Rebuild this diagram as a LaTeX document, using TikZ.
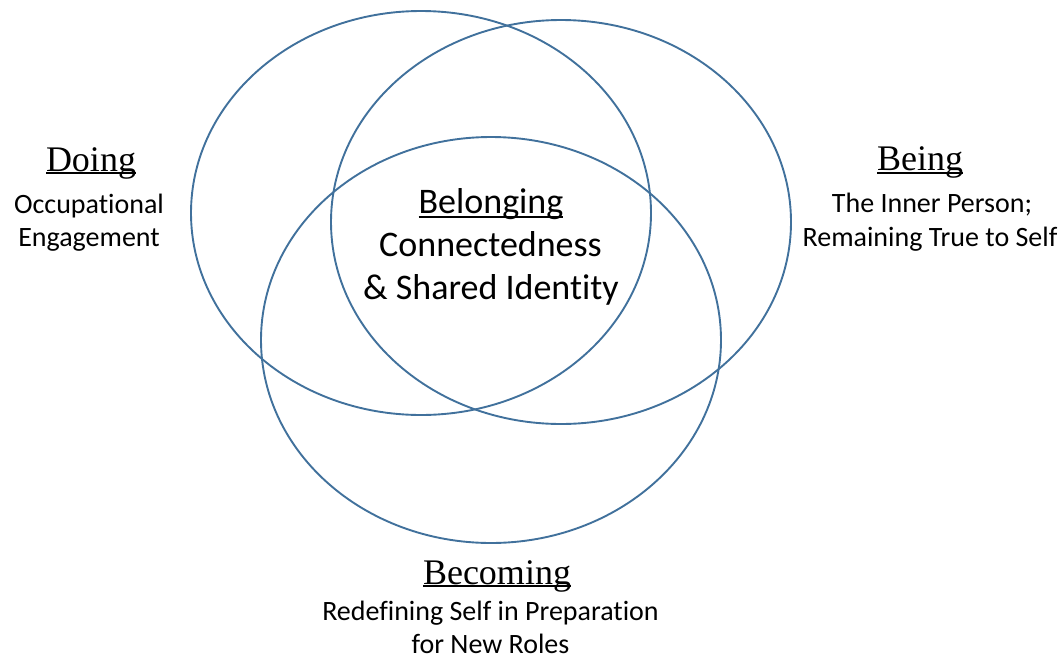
\documentclass[tikz,border=0pt]{standalone}
\usepackage{fontspec}
\setmainfont{Liberation Serif}
\newfontfamily\calfont[Ligatures={NoCommon}]{Carlito}
\definecolor{ringblue}{RGB}{65,113,156}
\newcommand{\myul}[3]{\setbox0\hbox{#3}\rlap{\rule[#1]{\wd0}{#2}}\box0}
\tikzset{
  ring/.style={draw=ringblue, line width=1.9pt},
  headtext/.style={anchor=base, inner sep=0pt, font=\fontsize{36}{40}\selectfont},
  subtext/.style={anchor=base, inner sep=0pt, font=\calfont\fontsize{28}{33}\selectfont},
  centertext/.style={anchor=base, inner sep=0pt, font=\calfont\fontsize{36}{42}\selectfont}
}
\begin{document}
\begin{tikzpicture}[x=1pt,y=-1pt]
\useasboundingbox (0,0) rectangle (1063,659);
% ellipses
\draw[ring] (421,213) ellipse [x radius=230pt, y radius=202pt];
\draw[ring] (561,222) ellipse [x radius=230pt, y radius=202pt];
\draw[ring] (491,340) ellipse [x radius=230pt, y radius=203pt];
% Doing
\node[headtext] (doing) at (91,171) {\myul{-3pt}{1.6pt}{Doing}};
\node[subtext] (doingA) at (89,213) {Occupational};
\node[subtext] (doingB) at (89,246) {Engagement};
% Being
\node[headtext] (being) at (920,170) {\myul{-3.5pt}{1.6pt}{Being}};
\node[subtext] (beingA) at (932,212) {The Inner Person;};
\node[subtext] (beingB) at (930,246) {Remaining True to Self};
% Belonging
\node[centertext] (belong) at (491,213) {\myul{-5pt}{2pt}{Belonging}};
\node[centertext] (belongA) at (490.5,256) {Connectedness};
\node[centertext] (belongB) at (491,299) {\& Shared Identity};
% Becoming
\node[headtext] (becoming) at (497,584) {\myul{-3pt}{1.6pt}{Becoming}};
\node[subtext] (becomingA) at (490.5,620) {Redefining Self in Preparation};
\node[subtext] (becomingB) at (490.5,653) {for New Roles};
\end{tikzpicture}
\end{document}
